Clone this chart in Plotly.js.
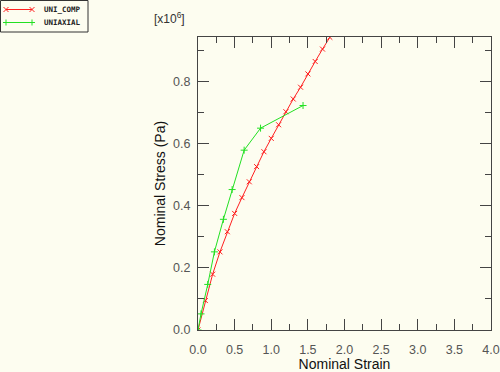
<!DOCTYPE html>
<html>
<head>
<meta charset="utf-8">
<script src="https://cdn.plot.ly/plotly-3.0.1.min.js"></script>
<style>
html,body{margin:0;padding:0;background:#fdfdf0;}
#chart{width:500px;height:372px;}
</style>
</head>
<body>
<div id="chart"></div>
<script>
// Nominal strain / nominal stress (x10^6 Pa)
const uniCompStrain = [0, 0.1, 0.2, 0.3, 0.4, 0.5, 0.6, 0.7, 0.8, 0.9, 1.0, 1.1, 1.2, 1.3, 1.4, 1.5, 1.6, 1.7, 1.8];
const uniCompStress = [0, 0.095, 0.180, 0.252, 0.317, 0.376, 0.427, 0.478, 0.527, 0.575, 0.618, 0.662, 0.704, 0.745, 0.783, 0.826, 0.866, 0.906, 0.944];
const uniaxialStrain = [0, 0.041, 0.133, 0.224, 0.347, 0.466, 0.630, 0.854, 1.434];
const uniaxialStress = [0, 0.052, 0.147, 0.252, 0.357, 0.453, 0.580, 0.651, 0.724];
const seriesNames = ["UNI_COMP", "UNIAXIAL"];
const xTickVals = [0, 0.5, 1.0, 1.5, 2.0, 2.5, 3.0, 3.5, 4.0];
const xTickText = ["0.0", "0.5", "1.0", "1.5", "2.0", "2.5", "3.0", "3.5", "4.0"];
const yTickVals = [0, 0.2, 0.4, 0.6, 0.8];
const yTickText = ["0.0", "0.2", "0.4", "0.6", "0.8"];

const bg = "#fdfdf0";
const axisColor = "#444444";
const redColor = "#ff2020";
const greenColor = "#22e022";

const W = 500, H = 372;
const M = {l: 198, r: 9, t: 37, b: 42};
const plotW = W - M.l - M.r, plotH = H - M.t - M.b;
// convert page pixel position to paper coordinates (for legend decoration)
const px = v => (v - M.l) / plotW;
const py = v => (H - M.b - v) / plotH;

const traces = [
  {
    x: uniCompStrain, y: uniCompStress, name: seriesNames[0],
    mode: "lines+markers", type: "scatter",
    line: {color: redColor, width: 1},
    marker: {symbol: "x-thin", size: 5, color: redColor, line: {color: redColor, width: 1}}
  },
  {
    x: uniaxialStrain, y: uniaxialStress, name: seriesNames[1],
    mode: "lines+markers", type: "scatter",
    line: {color: greenColor, width: 1},
    marker: {symbol: "cross-thin", size: 5, color: greenColor, line: {color: greenColor, width: 1}}
  }
];

const tickFont = {family: "Liberation Sans, Arial, sans-serif", size: 12.5, color: "#555555"};
const titleFont = {family: "Liberation Sans, Arial, sans-serif", size: 14, color: "#111111"};

const axisCommon = {
  showgrid: false, zeroline: false, showline: true, linecolor: axisColor, linewidth: 1,
  mirror: "ticks", ticks: "inside", ticklen: 11, tickwidth: 1, tickcolor: axisColor,
  tickfont: tickFont
};

// legend decoration (shapes + annotations)
const legendShapes = [];
const legendAnn = [];
legendShapes.push({type: "rect", xref: "paper", yref: "paper",
  x0: px(0.5), x1: px(88), y0: py(32), y1: py(0.5),
  line: {color: "#333333", width: 1}, fillcolor: bg, layer: "above"});
const legRows = [
  {name: seriesNames[0], color: redColor, y: 9.5, sym: "x"},
  {name: seriesNames[1], color: greenColor, y: 22.5, sym: "+"}
];
legRows.forEach(r => {
  legendShapes.push({type: "line", xref: "paper", yref: "paper",
    x0: px(6), x1: px(32), y0: py(r.y), y1: py(r.y), line: {color: r.color, width: 1}, layer: "above"});
  [6, 32].forEach(cx => {
    const s = 2.5;
    if (r.sym === "x") {
      legendShapes.push({type: "line", xref: "paper", yref: "paper", x0: px(cx - s), x1: px(cx + s), y0: py(r.y - s), y1: py(r.y + s), line: {color: r.color, width: 1}, layer: "above"});
      legendShapes.push({type: "line", xref: "paper", yref: "paper", x0: px(cx - s), x1: px(cx + s), y0: py(r.y + s), y1: py(r.y - s), line: {color: r.color, width: 1}, layer: "above"});
    } else {
      legendShapes.push({type: "line", xref: "paper", yref: "paper", x0: px(cx), x1: px(cx), y0: py(r.y - s - 0.5), y1: py(r.y + s + 0.5), line: {color: r.color, width: 1}, layer: "above"});
      legendShapes.push({type: "line", xref: "paper", yref: "paper", x0: px(cx - s - 0.5), x1: px(cx + s + 0.5), y0: py(r.y), y1: py(r.y), line: {color: r.color, width: 1}, layer: "above"});
    }
  });
  legendAnn.push({xref: "paper", yref: "paper", x: px(42), y: py(r.y), xanchor: "left", yanchor: "middle",
    text: r.name, showarrow: false,
    font: {family: "DejaVu Sans Mono, Liberation Mono, monospace", size: 7.5, color: "#222222", weight: "bold"}});
});

const layout = {
  width: W, height: H,
  paper_bgcolor: bg, plot_bgcolor: bg,
  margin: {l: M.l, r: M.r, t: M.t, b: M.b, pad: 0},
  showlegend: false,
  xaxis: Object.assign({}, axisCommon, {
    range: [0, 4.0], tickvals: xTickVals, ticktext: xTickText, ticklabelstandoff: 8,
    minor: {ticks: "inside", ticklen: 6, tickwidth: 1, tickcolor: axisColor, dtick: 0.25, tick0: 0},
    title: {text: "Nominal Strain", standoff: 2, font: titleFont}
  }),
  yaxis: Object.assign({}, axisCommon, {
    range: [0, 0.945], tickvals: yTickVals, ticktext: yTickText, ticklabelstandoff: 4,
    minor: {ticks: "inside", ticklen: 6, tickwidth: 1, tickcolor: axisColor, dtick: 0.1, tick0: 0},
    title: {text: "Nominal Stress (Pa)", standoff: 4, font: titleFont}
  }),
  shapes: legendShapes,
  annotations: [{
    xref: "paper", yref: "paper", x: px(169), y: py(18), xanchor: "center", yanchor: "middle",
    text: "[x10<sup>6</sup>]", showarrow: false,
    font: {family: "Liberation Sans, Arial, sans-serif", size: 12, color: "#333333"}
  }].concat(legendAnn)
};

Plotly.newPlot("chart", traces, layout, {staticPlot: true, displayModeBar: false});
</script>
</body>
</html>
